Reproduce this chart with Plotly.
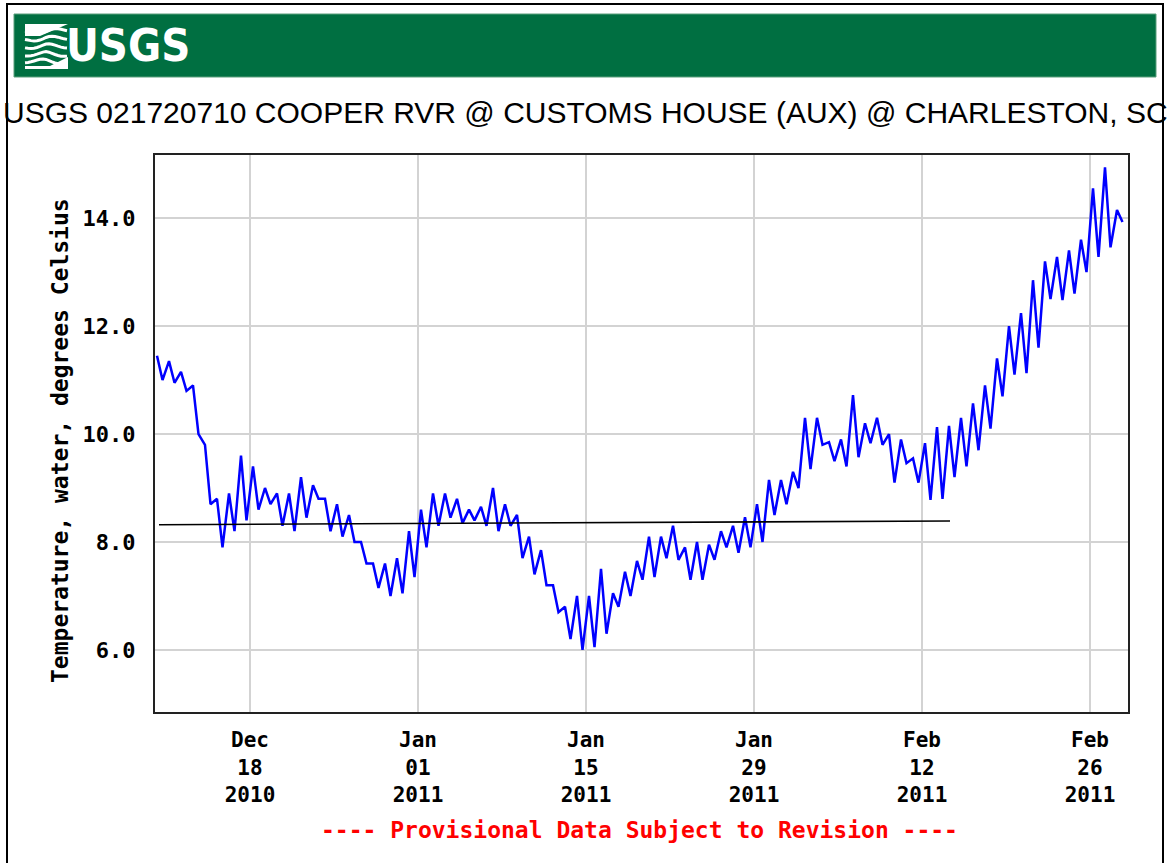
import datetime as dt
import math
import plotly.graph_objects as go

# ---------------- data ----------------
day_start = "2010-12-10"
# daily high / low water temperature (deg C), one pair per day starting Dec 10, 2010
daily_high = [11.45, 11.35, 11.15, 10.9, 9.8, 8.8, 8.9, 9.6, 9.4, 9.0,
              8.9, 8.9, 9.2, 9.05, 8.8, 8.7, 8.5, 8.0, 7.6, 7.6,
              7.7, 8.2, 8.6, 8.9, 8.9, 8.8, 8.6, 8.65, 9.0, 8.7,
              8.5, 8.1, 7.85, 7.2, 6.8, 7.0, 7.0, 7.5, 7.05, 7.45,
              7.65, 8.1, 8.1, 8.3, 7.9, 8.0, 7.95, 8.2, 8.3, 8.46,
              8.7, 9.15, 9.15, 9.3, 10.3, 10.3, 9.85, 9.9, 10.72, 10.2,
              10.3, 10.0, 9.9, 9.55, 9.83, 10.13, 10.15, 10.3, 10.57, 10.9,
              11.4, 12.0, 12.24, 12.85, 13.2, 13.28, 13.4, 13.6, 14.55, 14.94,
              14.15]
daily_low = [11.0, 10.95, 10.8, 10.0, 8.7, 7.9, 8.2, 8.4, 8.6, 8.7,
             8.3, 8.2, 8.45, 8.8, 8.2, 8.1, 8.0, 7.6, 7.15, 7.0,
             7.05, 7.35, 7.9, 8.3, 8.45, 8.35, 8.4, 8.3, 8.2, 8.3,
             7.7, 7.4, 7.2, 6.7, 6.2, 6.0, 6.05, 6.3, 6.8, 7.0,
             7.3, 7.35, 7.7, 7.67, 7.3, 7.3, 7.67, 7.9, 7.8, 7.9,
             8.0, 8.5, 8.7, 9.0, 9.35, 9.8, 9.5, 9.4, 9.57, 9.83,
             9.8, 9.1, 9.46, 9.1, 8.78, 8.8, 9.2, 9.4, 9.7, 10.1,
             10.7, 11.1, 11.13, 11.6, 12.5, 12.48, 12.6, 13.0, 13.28, 13.46,
             13.93]
trend_dates = ["2010-12-10 10:00", "2011-02-14 08:00"]
trend_values = [8.32, 8.39]

tick_dates = ["2010-12-18", "2011-01-01", "2011-01-15", "2011-01-29", "2011-02-12", "2011-02-26"]
tick_labels = ["Dec<br>18<br>2010", "Jan<br>01<br>2011", "Jan<br>15<br>2011",
               "Jan<br>29<br>2011", "Feb<br>12<br>2011", "Feb<br>26<br>2011"]
y_ticks = [6.0, 8.0, 10.0, 12.0, 14.0]

title_text = "USGS 021720710 COOPER RVR @ CUSTOMS HOUSE (AUX) @ CHARLESTON, SC"
y_title = "Temperature, water, degrees Celsius"
footer_text = "---- Provisional Data Subject to Revision ----"

# ---------------- build series ----------------
t0 = dt.datetime.fromisoformat(day_start)
xs, ys = [], []
for i, (hi, lo) in enumerate(zip(daily_high, daily_low)):
    d = t0 + dt.timedelta(days=i)
    xs += [d + dt.timedelta(hours=6), d + dt.timedelta(hours=17)]
    ys += [hi, lo]

# ---------------- layout geometry ----------------
W, H = 1167, 863
L, R, T, B = 155, 1167 - 1128, 155, 863 - 712
PW, PH = W - L - R, H - T - B


def px(x):
    return (x - L) / PW


def py(y):
    return (H - B - y) / PH


mono = "DejaVu Sans Mono"

fig = go.Figure()
fig.add_trace(go.Scatter(x=xs, y=ys, mode="lines",
                         line=dict(color="#0000FF", width=2.5), hoverinfo="skip"))
fig.add_trace(go.Scatter(x=trend_dates, y=trend_values, mode="lines",
                         line=dict(color="#000000", width=1.6), hoverinfo="skip"))

shapes = []
# outer border
shapes.append(dict(type="rect", xref="paper", yref="paper",
                   x0=px(7), x1=px(1163), y0=py(880), y1=py(4),
                   line=dict(color="black", width=2), fillcolor="rgba(0,0,0,0)", layer="below"))
# green header band
shapes.append(dict(type="rect", xref="paper", yref="paper",
                   x0=px(14), x1=px(1156), y0=py(77), y1=py(14),
                   line=dict(color="#5a9f7c", width=1), fillcolor="#006F41", layer="below"))


def path_from(points):
    return "M " + " L ".join(f"{px(a):.5f},{py(b):.5f}" for a, b in points)


# stylised wave logo (white strokes)
wave_rows = [31, 39, 47, 55, 62]
for k, yy in enumerate(wave_rows):
    pts = []
    for j in range(0, 44, 3):
        xx = 25 + j
        amp = 3.5 * (1 - abs(j - 22) / 30)
        pts.append((xx, yy + amp * math.sin((j / 44) * 2 * math.pi + k * 0.6)))
    shapes.append(dict(type="path", xref="paper", yref="paper", path=path_from(pts),
                       line=dict(color="white", width=3.0), layer="above"))
shapes.append(dict(type="path", xref="paper", yref="paper",
                   path=f"M {px(25)},{py(24)} L {px(68)},{py(24)} L {px(40)},{py(36)} L {px(25)},{py(36)} Z",
                   fillcolor="white", line=dict(color="white", width=0), layer="above"))
shapes.append(dict(type="path", xref="paper", yref="paper",
                   path=f"M {px(25)},{py(69)} L {px(68)},{py(69)} L {px(68)},{py(57)} L {px(50)},{py(66)} L {px(25)},{py(66)} Z",
                   fillcolor="white", line=dict(color="white", width=0), layer="above"))

annotations = [
    dict(text="<b>USGS</b>", x=px(128), y=py(46), xref="paper", yref="paper",
         showarrow=False, xanchor="center", yanchor="middle",
         font=dict(family="DejaVu Sans Condensed, Liberation Sans Narrow, sans-serif",
                   size=45, color="white")),
    dict(text=title_text, x=px(585), y=py(112), xref="paper", yref="paper",
         showarrow=False, xanchor="center", yanchor="middle",
         font=dict(family="Liberation Sans, Arial, sans-serif", size=30, color="black")),
    dict(text=f"<b>{y_title}</b>", x=px(60), y=py(441), xref="paper", yref="paper",
         showarrow=False, textangle=-90, xanchor="center", yanchor="middle",
         font=dict(family=mono, size=23, color="black")),
    dict(text=f"<b>{footer_text}</b>", x=px(639), y=py(830), xref="paper", yref="paper",
         showarrow=False, xanchor="center", yanchor="middle",
         font=dict(family=mono, size=23, color="#FF0000")),
]

fig.update_layout(
    width=W, height=H,
    margin=dict(l=L, r=R, t=T, b=B, pad=0),
    paper_bgcolor="white", plot_bgcolor="white",
    showlegend=False,
    shapes=shapes, annotations=annotations,
    xaxis=dict(type="date",
               range=["2010-12-10 02:00", "2011-03-01 04:00"],
               tickvals=tick_dates,
               ticktext=["<b>" + t.replace("<br>", "</b><br><b>") + "</b>" for t in tick_labels],
               tickfont=dict(family=mono, size=21, color="black"),
               ticks="outside", ticklen=8, tickcolor="rgba(0,0,0,0)",
               showgrid=True, gridcolor="#D3D3D3", gridwidth=2,
               showline=True, mirror=True, linecolor="#222222", linewidth=2,
               zeroline=False, fixedrange=True),
    yaxis=dict(range=[4.85, 15.17],
               tickvals=y_ticks, ticktext=[f"<b>{v:.1f}</b>" for v in y_ticks],
               tickfont=dict(family=mono, size=22, color="black"),
               ticks="outside", ticklen=13, tickcolor="rgba(0,0,0,0)",
               showgrid=True, gridcolor="#D3D3D3", gridwidth=2,
               showline=True, mirror=True, linecolor="#222222", linewidth=2,
               zeroline=False, fixedrange=True),
)

fig.write_html("out.html", config={"displayModeBar": False},
               post_script="document.body.style.margin='0px';document.body.style.overflow='hidden';")
